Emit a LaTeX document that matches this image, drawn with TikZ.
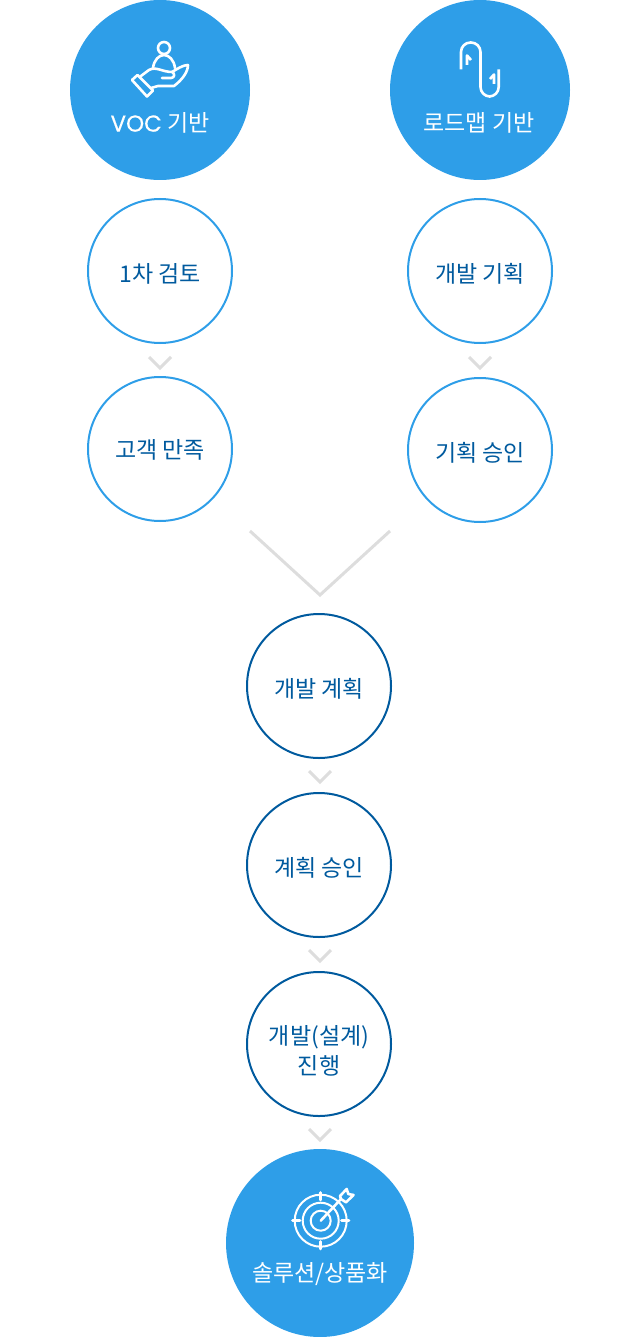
\documentclass[tikz,border=0pt]{standalone}
\usepackage{fontspec}
\usepackage{xcolor}
\setmainfont{Noto Sans CJK KR}
\newfontfamily\latinfont[FakeBold=0.4]{Poppins}
\usetikzlibrary{arrows.meta,positioning}
\definecolor{basisblue}{RGB}{46,158,232}
\definecolor{stepnavy}{RGB}{0,90,158}
\definecolor{chevgray}{RGB}{221,221,221}
\tikzset{
  basisdisc/.style={circle,fill=basisblue,inner sep=0pt,minimum size=#1},
  stepsky/.style={circle,draw=basisblue,line width=2pt,inner sep=0pt,minimum size=144pt,text=stepnavy,font=\fontsize{23}{30}\selectfont,align=center,text height=24pt,text depth=2pt},
  stepdeep/.style={stepsky,draw=stepnavy},
  disclabel/.style={text=white,inner sep=0pt,font=\fontsize{23}{27}\selectfont},
  chev/.style={draw=chevgray,line width=3pt,line join=miter},
  iconline/.style={draw=white,line width=2.6pt,line cap=round,line join=round}
}
\begin{document}
\begin{tikzpicture}[x=1pt,y=-1pt]
  \useasboundingbox (0,0) rectangle (640,1337);

  % Basis discs
  \node[basisdisc=180pt] (voc) at (160,90) {};
  \node[basisdisc=180pt] (roadmap) at (480,90) {};
  \node[disclabel] (voclabel) at (160,123) {{\latinfont VOC} 기반};
  \node[disclabel] (roadmaplabel) at (479,123) {로드맵 기반};

  % Two tracks
  \node[stepsky,text height=26pt] (review) at (160,271) {1차 검토};
  \node[stepsky,text height=21pt] (satisfy) at (160,449) {고객 만족};
  \node[stepsky,text height=26pt] (devplan) at (480,271) {개발 기획};
  \node[stepsky] (planok) at (480,450) {기획 승인};

  % Common track
  \node[stepdeep] (schedule) at (319,686) {개발 계획};
  \node[stepdeep] (scheduleok) at (319,865) {계획 승인};
  \node[stepdeep,text height=62pt] (design) at (319,1044) {개발(설계)\\진행};

  \node[basisdisc=188pt] (product) at (320,1243) {};
  \node[disclabel] (productlabel) at (320,1274.5) {솔루션/상품화};

  % Chevrons
  \foreach \x/\y in {160/357,480/357,320/771,320/950,320/1129} {
    \draw[chev] ({\x-11},\y) -- (\x,{\y+11}) -- ({\x+11},\y);
  }
  \draw[chev] (250,531) -- (320,595) -- (390,531);

  % Hand icon
  \draw[iconline] (164,48) circle (6);
  \draw[iconline] (153,68) .. controls (154,60) and (159,55) .. (164,55) .. controls (169,55) and (174,60) .. (175,68);
  \draw[iconline] (132,80) -- (137.5,75) -- (153,90.5) -- (147,96.5) -- cycle;
  \draw[iconline] (141,76) -- (149,70) .. controls (156,66) and (162,72) .. (172,72) .. controls (175,73) and (175,78) .. (171,78) -- (162,78);
  \draw[iconline] (172,72) .. controls (177,69) and (183,65) .. (188,65) .. controls (188,72) and (182,80) .. (174,86) -- (158,86) -- (151,88);

  % Paperclip icon
  \draw[iconline,rounded corners=9.5pt,line cap=butt] (461,69.5) -- (461,42.5) -- (480.5,42.5) -- (480.5,96.5) -- (498.7,96.5) -- (498.7,69.5);
  \draw[iconline,line cap=butt] (467,65) -- (467,55.5) -- (471,60);
  \draw[iconline,line cap=butt] (494,84) -- (494,74.5) -- (490,79);

  % Target icon
  \foreach \r in {26,18,10} {
    \draw[iconline,line width=2pt] (320.7,1220.7) circle (\r);
  }
  \draw[iconline] (292.5,1220.7) -- (300,1220.7);
  \draw[iconline] (341.5,1220.7) -- (349,1220.7);
  \draw[iconline] (320.7,1192.5) -- (320.7,1200);
  \draw[iconline] (320.7,1241.5) -- (320.7,1249);
  \draw[iconline] (320.7,1220.7) -- (341,1199);
  \draw[iconline] (340,1196) -- (346.7,1189) -- (348.3,1194) -- (353.5,1195) -- (346,1202.3) -- (341,1199) -- cycle;
\end{tikzpicture}
\end{document}
